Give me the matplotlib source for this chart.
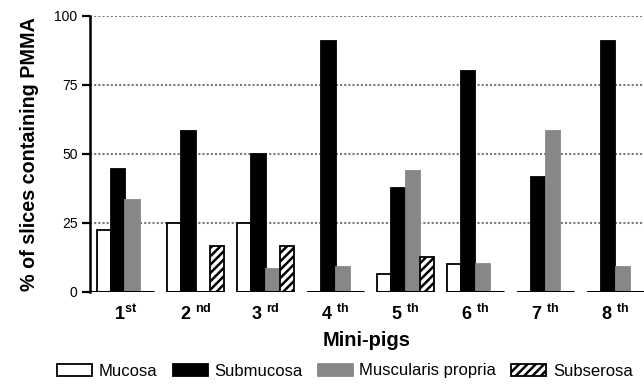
import matplotlib
matplotlib.use("Agg")
import matplotlib.pyplot as plt
import numpy as np
from matplotlib.patches import Patch

plt.rcParams['font.family'] = ['Liberation Sans', 'DejaVu Sans']
plt.rcParams['mathtext.fontset'] = 'custom'
plt.rcParams['mathtext.rm'] = 'Liberation Sans'
plt.rcParams['mathtext.bf'] = 'Liberation Sans:bold'
plt.rcParams['hatch.linewidth'] = 1.8

groups = [r'$\mathbf{1^{st}}$', r'$\mathbf{2\;{}^{nd}}$', r'$\mathbf{3\;{}^{rd}}$',
          r'$\mathbf{4\;{}^{th}}$', r'$\mathbf{5\;{}^{th}}$', r'$\mathbf{6\;{}^{th}}$',
          r'$\mathbf{7\;{}^{th}}$', r'$\mathbf{8\;{}^{th}}$']
series_names = ['Mucosa', 'Submucosa', 'Muscularis propria', 'Subserosa']
mucosa = [22.2, 25.0, 25.0, 0, 6.25, 10.0, 0, 0]
submucosa = [44.4, 58.3, 50.0, 90.9, 37.5, 80.0, 41.7, 90.9]
muscularis = [33.3, 0, 8.3, 9.1, 43.75, 10.0, 58.3, 9.1]
subserosa = [0, 16.7, 16.7, 0, 12.5, 0, 0, 0]
yticks = [0, 25, 50, 75, 100]

values = [mucosa, submucosa, muscularis, subserosa]
faces = ['white', 'black', '#878787', 'white']
edges = ['black', 'black', '#878787', 'black']
hatches = [None, None, None, '////']

fig = plt.figure(figsize=(6.44, 3.84), dpi=100)
ax = fig.add_axes([90/644, 92.3/384, 554/644, (291.7-15.7)/384])

x = np.arange(len(groups))
w = 0.207
for k, (vals, fc, ec, h) in enumerate(zip(values, faces, edges, hatches)):
    ax.bar(x + (k - 1.5) * w, vals, width=w, facecolor=fc, edgecolor=ec,
           hatch=h, linewidth=1.3, zorder=3)

# per-group baseline segments
for i in x:
    left = -0.6 if i == 0 else i - 2 * w
    ax.hlines(0, left, i + 2 * w, colors='black', linewidth=2.2, zorder=4)

ax.set_xlim(-35.5/70, (644-125.5)/70)
ax.set_ylim(0, 100)
ax.set_yticks(yticks)
ax.set_yticklabels([str(v) for v in yticks], fontsize=10)
ax.set_xticks(x)
ax.set_xticklabels(groups, fontsize=13)
ax.tick_params(axis='x', length=0, pad=8.5)
ax.tick_params(axis='y', length=6, width=1.6, pad=3, direction='out')

for s in ['top', 'right', 'bottom']:
    ax.spines[s].set_visible(False)
ax.spines['left'].set_linewidth(1.8)

for v in yticks[1:]:
    ax.axhline(v, color='#7a7a7a', linestyle=(0, (1, 1)), linewidth=1.5, zorder=1)

ax.set_ylabel('% of slices containing PMMA', fontsize=14.2, fontweight='bold', labelpad=11)
ax.set_xlabel('Mini-pigs', fontsize=14.5, fontweight='bold', labelpad=5)

handles = [Patch(facecolor=fc, edgecolor=('black' if k != 2 else '#878787'), hatch=h, linewidth=1.3)
           for k, (fc, h) in enumerate(zip(faces, hatches))]
fig.legend(handles, series_names, loc='center', bbox_to_anchor=(345/644, 1 - 371/384),
           ncol=4, frameon=False, fontsize=12, handlelength=2.1, handleheight=0.75,
           handletextpad=0.4, columnspacing=0.9, borderaxespad=0, borderpad=0)

fig.savefig('out.png', dpi=100)
